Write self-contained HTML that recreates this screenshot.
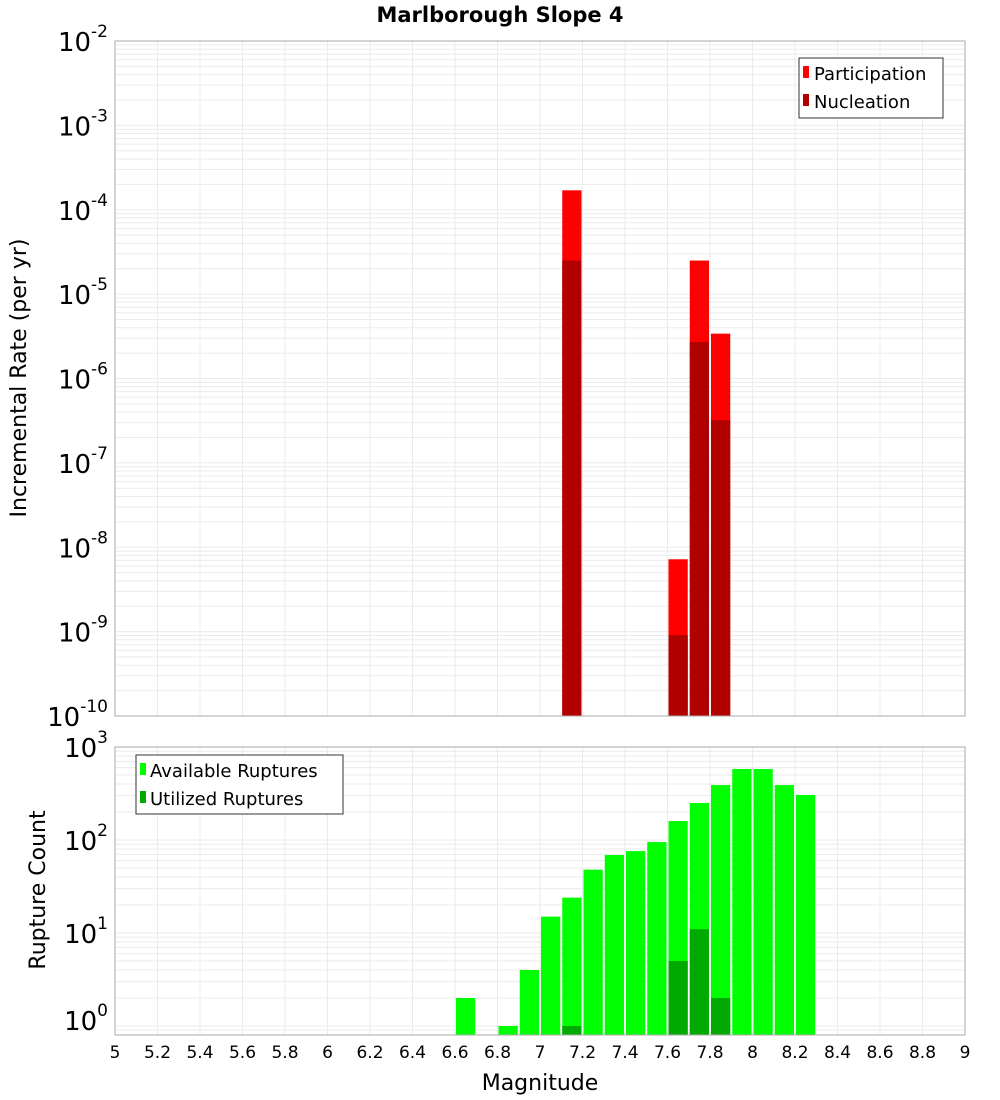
<!DOCTYPE html>
<html><head><meta charset="utf-8"><style>
body{margin:0;background:#fff;}
svg{display:block;font-family:"Liberation Sans","DejaVu Sans",sans-serif;}
</style></head><body>
<svg id="chart" width="1000" height="1100" xmlns="http://www.w3.org/2000/svg">
<text x="500" y="22" text-anchor="middle" font-size="21" font-weight="bold" font-family="DejaVu Sans, sans-serif">Marlborough Slope 4</text>
<g id="topG"></g>
<g id="botG"></g>
<text transform="translate(26,378) rotate(-90)" text-anchor="middle" font-size="22" font-family="DejaVu Sans, sans-serif">Incremental Rate (per yr)</text>
<text transform="translate(45,890) rotate(-90)" text-anchor="middle" font-size="22" font-family="DejaVu Sans, sans-serif">Rupture Count</text>
<text x="540" y="1090" text-anchor="middle" font-size="22" font-family="DejaVu Sans, sans-serif">Magnitude</text>
<g>
<rect x="799" y="58" width="144" height="60" fill="#fff" stroke="#333"/>
<rect x="803" y="66" width="6" height="12" fill="#ff0000"/>
<text x="814" y="80" font-size="18" font-family="DejaVu Sans, sans-serif">Participation</text>
<rect x="803" y="94" width="6" height="12" fill="#b00000"/>
<text x="814" y="108" font-size="18" font-family="DejaVu Sans, sans-serif">Nucleation</text>
</g>
<g>
<rect x="136" y="755" width="207" height="59" fill="#fff" stroke="#333"/>
<rect x="140" y="763" width="6" height="12" fill="#00ff00"/>
<text x="150" y="777" font-size="18" font-family="DejaVu Sans, sans-serif">Available Ruptures</text>
<rect x="140" y="791" width="6" height="12" fill="#00aa00"/>
<text x="150" y="805" font-size="18" font-family="DejaVu Sans, sans-serif">Utilized Ruptures</text>
</g>
</svg>
<script>
const mags=[7.15,7.65,7.75,7.85];
const participation=[1.7e-4,7.2e-9,2.5e-5,3.4e-6];
const nucleation=[2.5e-5,9.1e-10,2.7e-6,3.2e-7];
const countMags=[6.65,6.85,6.95,7.05,7.15,7.25,7.35,7.45,7.55,7.65,7.75,7.85,7.95,8.05,8.15,8.25];
const available=[2,1,4,15,24,48,69,76,95,160,250,390,580,580,390,305];
const utilMags=[7.15,7.65,7.75,7.85];
const utilized=[1,5,11,2];
const xTicks=[5,5.2,5.4,5.6,5.8,6,6.2,6.4,6.6,6.8,7,7.2,7.4,7.6,7.8,8,8.2,8.4,8.6,8.8,9];

const NS='http://www.w3.org/2000/svg';
const X0=115,X1=965;
const xs=m=>X0+(m-5)/4*(X1-X0);
const T0=41,T1=716; const yT=v=>T0+(-2-Math.log10(v))/8*(T1-T0);
const B0=747,B1=1035; const yB=v=>1026-Math.log10(v)*93;
function el(p,tag,a){const e=document.createElementNS(NS,tag);for(const k in a)e.setAttribute(k,a[k]);p.appendChild(e);return e;}
const topG=document.getElementById('topG'),botG=document.getElementById('botG');

function grid(g,y0,y1,yf,dmin,dmax){
  for(let d=dmin;d<=dmax;d++)for(let k=1;k<10;k++){const v=k*Math.pow(10,d);const y=yf(v);if(y<y0-0.5||y>y1+0.5)continue;
    const l=el(g,'line',{x1:X0,x2:X1,y1:y,y2:y,stroke:'#ebebeb','stroke-width':1});
    
    }
  xTicks.forEach(t=>{const l=el(g,'line',{x1:xs(t),x2:xs(t),y1:y0,y2:y1,stroke:'#ebebeb'});
    
    });
}
grid(topG,T0,T1,yT,-10,-3);
grid(botG,B0,B1,yB,-1,2);

function bar(g,m,v,yf,ybase,fill,name){
  const x=xs(m-0.05)+1,w=xs(m+0.05)-xs(m-0.05)-2,y=yf(v);
  const r=el(g,'rect',{x:x,y:y,width:w,height:ybase-y,fill:fill});
  
  
}
mags.forEach((m,i)=>bar(topG,m,participation[i],yT,T1,'#ff0000','participation-bar'));
mags.forEach((m,i)=>bar(topG,m,nucleation[i],yT,T1,'#b00000','nucleation-bar'));
countMags.forEach((m,i)=>bar(botG,m,available[i],yB,B1,'#00ff00','available-bar'));
utilMags.forEach((m,i)=>bar(botG,m,utilized[i],yB,B1,'#00aa00','utilized-bar'));

let f=el(topG,'rect',{x:X0,y:T0,width:X1-X0,height:T1-T0,fill:'none',stroke:'#aaa'});


f=el(botG,'rect',{x:X0,y:B0,width:X1-X0,height:B1-B0,fill:'none',stroke:'#aaa'});



function powLabel(g,y,exp){
  const t=el(g,'text',{x:108,y:y+10,'text-anchor':'end','font-size':26,'font-family':'DejaVu Sans, sans-serif'});
  
  
  t.textContent='10';
  const s=el(t,'tspan',{dy:-14,'font-size':17});s.textContent=exp;
}
for(let d=-2;d>=-10;d--)powLabel(topG,yT(Math.pow(10,d)),String(d));
for(let d=3;d>=0;d--)powLabel(botG,d==0?1020:yB(Math.pow(10,d)),String(d));
xTicks.forEach(t=>{const e=el(botG,'text',{x:xs(t),y:1058,'text-anchor':'middle','font-size':17,'font-family':'DejaVu Sans, sans-serif'});
  
  
  e.textContent=String(+t.toFixed(1));});
</script>
</body></html>
